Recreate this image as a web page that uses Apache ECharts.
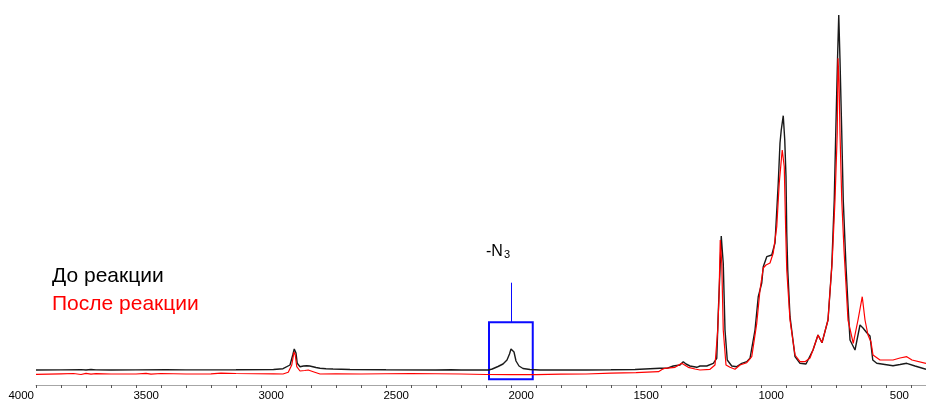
<!DOCTYPE html>
<html>
<head>
<meta charset="utf-8">
<script src="https://cdn.jsdelivr.net/npm/echarts@6/dist/echarts.min.js"></script>
<style>
  html, body { margin: 0; padding: 0; background: #ffffff; }
  #chart { width: 926px; height: 401px; }
</style>
</head>
<body>
<div id="chart"></div>
<script>
// IR spectra, wavenumber (cm-1) vs. absorbance (a.u.)
const beforeSpectrum = [
  [4000,0.150],[3900,0.151],[3820,0.154],[3800,0.150],[3780,0.155],[3760,0.151],[3700,0.150],
  [3600,0.151],[3480,0.153],[3400,0.151],[3200,0.152],[3050,0.155],[3012,0.163],[2984,0.200],
  [2973,0.300],[2967,0.360],[2965,0.373],[2962,0.350],[2960,0.320],[2955,0.217],[2944,0.183],
  [2930,0.190],[2917,0.193],[2905,0.190],[2897,0.183],[2880,0.175],[2864,0.167],[2840,0.163],
  [2812,0.160],[2744,0.155],[2600,0.152],[2400,0.150],[2340,0.153],[2300,0.150],[2190,0.150],
  [2175,0.160],[2168,0.175],[2152,0.185],[2132,0.210],[2116,0.250],[2106,0.310],[2100,0.360],
  [2096,0.380],[2092,0.360],[2088,0.330],[2080,0.240],[2068,0.190],[2052,0.165],[2024,0.155],
  [1984,0.150],[1800,0.150],[1700,0.152],[1604,0.155],[1504,0.167],[1477,0.167],[1451,0.190],
  [1424,0.200],[1411,0.233],[1400,0.210],[1384,0.190],[1357,0.177],[1344,0.190],[1317,0.190],
  [1291,0.217],[1277,0.267],[1271,0.717],[1264,1.150],[1259,1.490],[1255,1.350],[1251,1.217],
  [1244,0.550],[1235,0.250],[1217,0.190],[1197,0.183],[1177,0.217],[1157,0.233],[1144,0.267],
  [1124,0.550],[1111,0.883],[1104,0.950],[1097,1.020],[1091,1.183],[1077,1.283],[1057,1.300],
  [1044,1.420],[1031,2.020],[1024,2.420],[1019,2.550],[1011,2.693],[1005,2.450],[1000,2.083],
  [997,1.520],[993,1.150],[984,0.683],[964,0.283],[944,0.217],[937,0.200],[920,0.210],
  [892,0.350],[872,0.500],[856,0.423],[832,0.650],[817,1.183],[807,1.850],[801,2.520],
  [794,3.250],[789,3.700],[784,3.250],[777,2.520],[771,1.850],[760,1.183],[752,0.800],
  [744,0.450],[724,0.350],[712,0.500],[704,0.600],[692,0.570],[676,0.520],[664,0.490],
  [653,0.250],[637,0.217],[572,0.193],[544,0.205],[517,0.217],[484,0.190],[440,0.157]
];

const afterSpectrum = [
  [4000,0.107],[3900,0.112],[3850,0.115],[3820,0.105],[3800,0.117],[3780,0.108],[3760,0.113],
  [3700,0.110],[3600,0.110],[3560,0.117],[3540,0.108],[3500,0.115],[3400,0.110],[3300,0.112],
  [3260,0.118],[3200,0.115],[3050,0.112],[3012,0.110],[2991,0.127],[2977,0.200],[2970,0.300],
  [2968,0.330],[2963,0.300],[2957,0.183],[2944,0.140],[2925,0.145],[2911,0.150],[2891,0.133],
  [2864,0.110],[2800,0.112],[2700,0.110],[2500,0.115],[2300,0.110],[2200,0.105],[2100,0.103],
  [2000,0.103],[1900,0.108],[1800,0.110],[1700,0.118],[1600,0.123],[1510,0.133],[1496,0.155],
  [1484,0.167],[1444,0.177],[1417,0.217],[1391,0.177],[1364,0.160],[1344,0.150],[1304,0.157],
  [1284,0.200],[1273,0.550],[1268,0.883],[1263,1.450],[1257,1.217],[1251,0.550],[1240,0.200],
  [1224,0.177],[1204,0.157],[1184,0.200],[1157,0.223],[1137,0.283],[1117,0.617],[1104,0.950],
  [1091,1.170],[1080,1.200],[1064,1.220],[1051,1.320],[1037,1.583],[1027,2.020],[1017,2.300],
  [1015,2.350],[1007,2.183],[1001,1.520],[997,1.150],[984,0.650],[964,0.300],[944,0.233],
  [924,0.233],[904,0.270],[892,0.350],[872,0.500],[856,0.423],[832,0.650],[815,1.250],
  [804,1.850],[795,2.520],[792,3.267],[788,3.050],[784,2.520],[777,1.850],[768,1.350],
  [752,0.650],[731,0.417],[712,0.650],[695,0.883],[684,0.650],[672,0.500],[660,0.430],
  [652,0.300],[624,0.250],[572,0.250],[544,0.270],[517,0.283],[496,0.250],[440,0.217]
];

// azide band highlight: box corners and the leader line (wavenumber, absorbance)
const azideBox = [[2188, 0.627], [2013, 0.057]];
const azideLeader = [[2100, 0.627], [2100, 1.023]];
const azideLabelAt = [2152, 1.33];

const seriesNames = ['До реакции', 'После реакции'];

const chart = echarts.init(document.getElementById('chart'));

chart.setOption({
  animation: false,
  backgroundColor: '#ffffff',
  grid: { left: 36, top: 0, width: 1000, height: 385, outerBoundsMode: 'none', containLabel: false },
  xAxis: {
    type: 'value',
    inverse: true,
    min: 0,
    max: 4000,
    interval: 500,
    offset: 1,
    axisLine: { lineStyle: { color: '#a6a6a6', width: 1 } },
    axisTick: { show: true, length: 3, lineStyle: { color: '#555555' } },
    minorTick: { show: true, splitNumber: 5, length: 3, lineStyle: { color: '#555555' } },
    splitLine: { show: false },
    axisLabel: {
      align: 'right',
      margin: 4,
      padding: [0, 2, 0, 0],
      color: '#000000',
      fontFamily: 'Liberation Sans, Arial, sans-serif',
      fontSize: 11.5,
      formatter: (v) => String(v)
    }
  },
  yAxis: {
    type: 'value',
    min: 0,
    max: 3.85,
    show: false
  },
  series: [
    {
      name: seriesNames[0],
      type: 'line',
      data: beforeSpectrum,
      showSymbol: false,
      lineStyle: { color: '#1a1a1a', width: 1.4 },
      z: 2,
      markArea: {
        silent: true,
        itemStyle: { color: 'rgba(0,0,0,0)', borderColor: '#0a0aff', borderWidth: 2 },
        data: [[{ coord: azideBox[0] }, { coord: azideBox[1] }]]
      },
      markLine: {
        silent: true,
        symbol: 'none',
        label: { show: false },
        lineStyle: { color: '#0a0aff', width: 1, type: 'solid' },
        data: [[{ coord: azideLeader[0] }, { coord: azideLeader[1] }]]
      },
      markPoint: {
        silent: true,
        symbol: 'circle',
        symbolSize: 0,
        label: {
          show: true,
          position: 'inside',
          formatter: '{a|-N}{b|3}',
          rich: {
            a: { fontFamily: 'Liberation Sans, Arial, sans-serif', fontSize: 16, color: '#000000' },
            b: { fontFamily: 'Liberation Sans, Arial, sans-serif', fontSize: 11, color: '#000000', verticalAlign: 'bottom', padding: [0, 0, 0, 1] }
          }
        },
        data: [{ coord: azideLabelAt }]
      }
    },
    {
      name: seriesNames[1],
      type: 'line',
      data: afterSpectrum,
      showSymbol: false,
      lineStyle: { color: '#ff0000', width: 1.2 },
      z: 3
    }
  ],
  graphic: [
    {
      type: 'text',
      left: 52,
      top: 266,
      style: { text: seriesNames[0], fill: '#000000', font: '21px "Liberation Sans", Arial, sans-serif' }
    },
    {
      type: 'text',
      left: 52,
      top: 294,
      style: { text: seriesNames[1], fill: '#ff0000', font: '21px "Liberation Sans", Arial, sans-serif' }
    }
  ]
});
</script>
</body>
</html>
